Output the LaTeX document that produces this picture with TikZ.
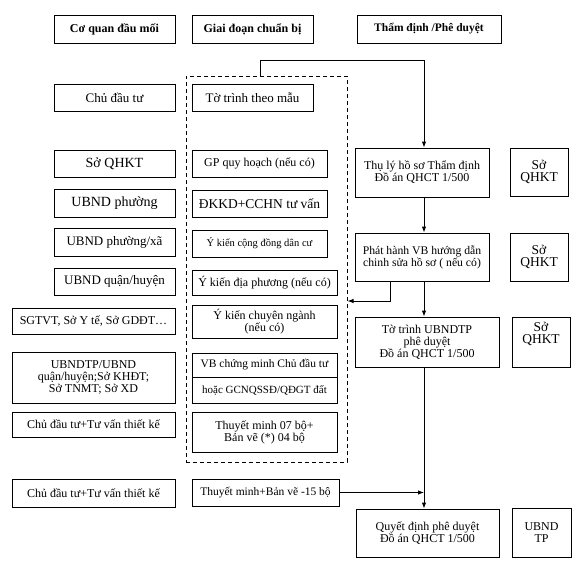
\documentclass[tikz,border=0pt]{standalone}
\usepackage{fontspec}
\setmainfont{Liberation Serif}
\usetikzlibrary{arrows.meta}
\tikzset{
  box/.style={draw, line width=0.9pt, inner sep=0pt, align=center},
  hdr/.style={box, font=\bfseries},
  arr/.style={line width=0.9pt, -{Latex[length=6pt,width=4.5pt]}},
  ln/.style={line width=0.9pt},
  dashbox/.style={draw, line width=1pt, dash pattern=on 4pt off 3pt, inner sep=0pt},
}
\newcommand\fs[1]{\fontsize{#1}{15}\selectfont}
\newcommand\bxnode[7]{%
  \node[#1, minimum width={(#5-#3)*1pt}, minimum height={(#6-#4)*1pt}] (#2) at ({(#3+#5)/2},{(#4+#6)/2}) {#7};}
\begin{document}
\begin{tikzpicture}[x=1pt,y=-1pt]
\useasboundingbox (0,0) rectangle (581,563);
% dashed group
\bxnode{dashbox}{grp}{186}{76}{347}{462}{}
% headers
\bxnode{hdr}{h1}{54}{15}{175}{43}{\fs{12}\bfseries Cơ quan đầu mối}
\bxnode{hdr}{h2}{192}{15}{313}{43}{\fs{12}\bfseries Giai đoạn chuẩn bị}
\bxnode{hdr}{h3}{357}{15}{501}{43}{\fs{11.5}\bfseries Thẩm định /Phê duyệt}
% left column
\bxnode{box}{l1}{54}{84}{175}{111}{\fs{13}Chủ đầu tư}
\bxnode{box}{l2}{54}{150}{175}{177}{\fs{14}Sở QHKT}
\bxnode{box}{l3}{54}{189}{175}{217}{\fs{14}UBND phường}
\bxnode{box}{l4}{54}{228}{175}{256}{\fs{13}UBND phường/xã}
\bxnode{box}{l5}{54}{268}{175}{295}{\fs{13}UBND quận/huyện}
\bxnode{box}{l6}{12}{308}{175}{334}{\fs{12}SGTVT, Sở Y tế, Sở GDĐT…}
\bxnode{box}{l7}{12}{352}{175}{403}{\fs{12}UBNDTP/UBND\\\fs{12}quận/huyện;Sở KHĐT;\\\fs{12}Sở TNMT; Sở XD}
\bxnode{box}{l8}{12}{412}{175}{437}{\fs{12}Chủ đầu tư+Tư vấn thiết kế}
\bxnode{box}{l9}{12}{479}{175}{507}{\fs{12}Chủ đầu tư+Tư vấn thiết kế}
% middle column
\bxnode{box}{m1}{192}{84}{313}{111}{\fs{13}Tờ trình theo mẫu}
\bxnode{box}{m2}{192}{150}{327}{177}{\fs{12}GP quy hoạch (nếu có)}
\bxnode{box}{m3}{192}{190}{327}{217}{\fs{13.5}ĐKKD+CCHN tư vấn}
\bxnode{box}{m4}{192}{230}{327}{257}{\fs{10.5}Ý kiến cộng đồng dân cư}
\bxnode{box}{m5}{192}{270}{337}{295}{\fs{12}Ý kiến địa phương (nếu có)}
\bxnode{box}{m6}{192}{305}{337}{338}{\fs{12}Ý kiến chuyên ngành\\\fs{12}(nếu có)}
\bxnode{box}{m7a}{192}{353}{337}{377}{\fs{11.5}VB chứng minh Chủ đầu tư}
\bxnode{box}{m7b}{192}{377}{337}{403}{\fs{11}hoặc GCNQSSĐ/QĐGT đất}
\bxnode{box}{m8}{192}{412}{337}{452}{\fs{12}Thuyết minh 07 bộ+\\\fs{12}Bản vẽ (*) 04 bộ}
\bxnode{box}{m9}{192}{479}{339}{506}{\fs{11.5}Thuyết minh+Bản vẽ -15 bộ}
% right column
\bxnode{box}{r1}{355}{148}{489}{197}{\fs{12}Thụ lý hồ sơ Thẩm định\\\fs{12}Đồ án QHCT 1/500}
\bxnode{box}{s1}{510}{148}{568}{196}{\fs{13.5}Sở\\\fs{13.5}QHKT}
\bxnode{box}{r2}{355}{233}{489}{281}{\fs{11.7}Phát hành VB hướng dẫn\\\fs{11.7}chinh sửa hồ sơ ( nếu có)}
\bxnode{box}{s2}{510}{233}{568}{281}{\fs{13.5}Sở\\\fs{13.5}QHKT}
\bxnode{box}{r3}{355}{317}{499}{367}{\fs{12}Tờ trình UBNDTP\\\fs{12}phê duyệt\\\fs{12}Đồ án QHCT 1/500}
\bxnode{box}{s3}{512}{317}{570}{367}{\fs{13.5}Sở\\\fs{13.5}QHKT\\[6pt]}
\bxnode{box}{r4}{356}{509}{499}{557}{\fs{12}Quyết định phê duyệt\\\fs{12}Đồ án QHCT 1/500}
\bxnode{box}{s4}{512}{508}{571}{557}{\fs{12}UBND\\\fs{12}TP}
% helper coordinates
\coordinate (vx) at (424,0);
\coordinate (ctop) at (260,60);
\coordinate (fbturn) at (390,301);
% connectors
\draw[arr] (grp.north -| ctop) -- (ctop) -- (ctop -| vx) -- (r1.north -| vx);
\draw[arr] (r1.south -| vx) -- (r2.north -| vx);
\draw[arr] (r2.south -| fbturn) -- (fbturn) -- (fbturn -| grp.east);
\draw[arr] (r2.south -| vx) -- (r3.north -| vx);
\draw[arr] (r3.south -| vx) -- (r4.north -| vx);
\draw[arr] (m9.east) -- (m9.east -| vx);
\end{tikzpicture}
\end{document}
